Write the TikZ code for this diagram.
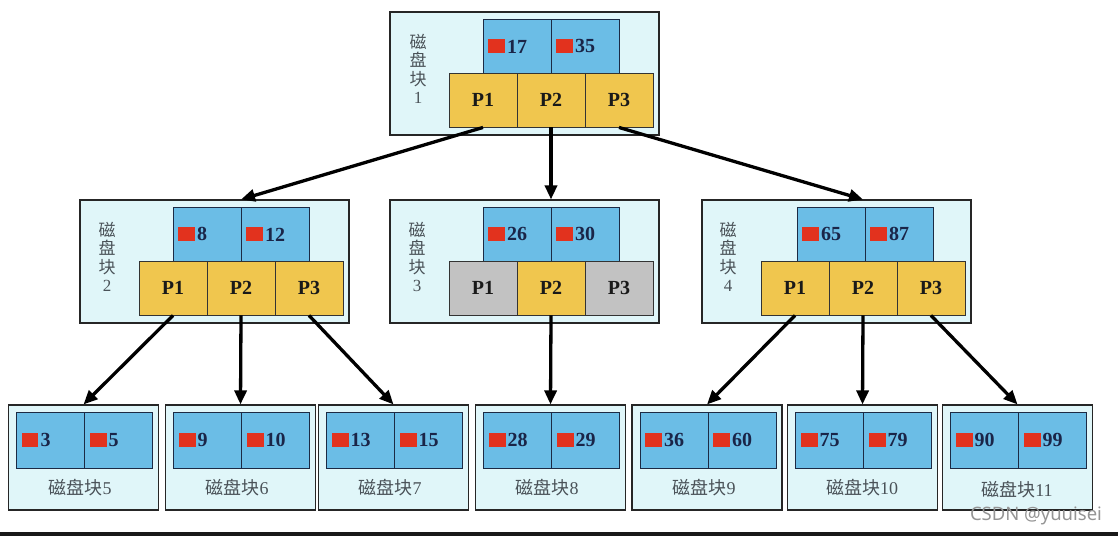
\documentclass[tikz,border=0pt]{standalone}
\usepackage{fontspec}
\setmainfont{Liberation Serif}
\newfontfamily\cjk{Noto Sans CJK SC}
\newfontfamily\wmfont{Noto Sans}
\usetikzlibrary{arrows.meta}
\definecolor{diskbg}{HTML}{E0F6F9}
\definecolor{keyblue}{HTML}{6BBDE6}
\definecolor{pyellow}{HTML}{F0C64E}
\definecolor{pgrey}{HTML}{C2C2C2}
\definecolor{keyred}{HTML}{E2321E}
\definecolor{keytext}{HTML}{1A2548}
\definecolor{navyline}{HTML}{1C2A44}
\definecolor{labgray}{HTML}{4A5258}
\newcommand{\keysq}{\textcolor{keyred}{\rule{17pt}{14pt}}\hspace{2pt}}

\begin{document}
\begin{tikzpicture}[x=1pt,y=-1pt]
\tikzset{
  disknode/.style={draw=black!85,line width=1.1pt,fill=diskbg,minimum width=269pt,minimum height=123pt,inner sep=0pt},
  leafnode/.style={disknode,minimum width=150pt,minimum height=105pt},
  keycell/.style={draw=navyline,line width=0.9pt,fill=keyblue,minimum width=68pt,minimum height=54pt,text width=58pt,inner xsep=5pt,inner ysep=0pt,align=left,font=\fontsize{20}{22}\selectfont\bfseries,text=keytext},
  leafkey/.style={keycell,minimum height=56pt},
  pcell/.style={draw=black!80,line width=0.9pt,fill=pyellow,minimum width=68pt,minimum height=54pt,inner sep=0pt,font=\fontsize{20}{22}\selectfont\bfseries,text=black!90},
  pgray/.style={pcell,fill=pgrey},
  vlabel/.style={align=center,inner sep=0pt,font=\fontsize{17}{18.5}\selectfont,text=labgray},
  leaflabel/.style={inner sep=0pt,font=\fontsize{18}{20}\selectfont,text=labgray},
  ptr/.style={line width=3.3pt,-{Triangle[length=14pt,width=12pt]}}
}
\useasboundingbox (0,0) rectangle (1118,536);
% root block
\node[disknode] (b1) at (524.5,73.5) {};
\node[keycell] (b1k1) at (517,46) {\keysq 17};
\node[keycell] (b1k2) at (585,46) {\keysq 35};
\node[pcell] (b1p1) at (483,100) {P1};
\node[pcell] (b1p2) at (551,100) {P2};
\node[pcell] (b1p3) at (619,100) {P3};
\node[vlabel] (b1lab) at (418,69) {{\cjk 磁}\\{\cjk 盘}\\{\cjk 块}\\1};
% second level
\node[disknode] (b2) at (214.5,261.5) {};
\node[keycell] (b2k1) at (207,234) {\keysq 8};
\node[keycell] (b2k2) at (275,234) {\keysq 12};
\node[pcell] (b2p1) at (173,288) {P1};
\node[pcell] (b2p2) at (241,288) {P2};
\node[pcell] (b2p3) at (309,288) {P3};
\node[vlabel] (b2lab) at (107,257) {{\cjk 磁}\\{\cjk 盘}\\{\cjk 块}\\2};
\node[disknode] (b3) at (524.5,261.5) {};
\node[keycell] (b3k1) at (517,234) {\keysq 26};
\node[keycell] (b3k2) at (585,234) {\keysq 30};
\node[pgray] (b3p1) at (483,288) {P1};
\node[pcell] (b3p2) at (551,288) {P2};
\node[pgray] (b3p3) at (619,288) {P3};
\node[vlabel] (b3lab) at (417,257) {{\cjk 磁}\\{\cjk 盘}\\{\cjk 块}\\3};
\node[disknode] (b4) at (836.5,261.5) {};
\node[keycell] (b4k1) at (831,234) {\keysq 65};
\node[keycell] (b4k2) at (899,234) {\keysq 87};
\node[pcell] (b4p1) at (795,288) {P1};
\node[pcell] (b4p2) at (863,288) {P2};
\node[pcell] (b4p3) at (931,288) {P3};
\node[vlabel] (b4lab) at (728,257) {{\cjk 磁}\\{\cjk 盘}\\{\cjk 块}\\4};
% leaves
\node[leafnode] (l5) at (83.5,457.5) {};
\node[leafkey] (l5k1) at (50.5,440) {\keysq 3};
\node[leafkey] (l5k2) at (118.5,440) {\keysq 5};
\node[leaflabel] (l5lab) at (80,488) {{\cjk 磁盘块}5};
\node[leafnode] (l6) at (240.5,457.5) {};
\node[leafkey] (l6k1) at (207.5,440) {\keysq 9};
\node[leafkey] (l6k2) at (275.5,440) {\keysq 10};
\node[leaflabel] (l6lab) at (237,488) {{\cjk 磁盘块}6};
\node[leafnode] (l7) at (393.5,457.5) {};
\node[leafkey] (l7k1) at (360.5,440) {\keysq 13};
\node[leafkey] (l7k2) at (428.5,440) {\keysq 15};
\node[leaflabel] (l7lab) at (390,488) {{\cjk 磁盘块}7};
\node[leafnode] (l8) at (550.5,457.5) {};
\node[leafkey] (l8k1) at (517.5,440) {\keysq 28};
\node[leafkey] (l8k2) at (585.5,440) {\keysq 29};
\node[leaflabel] (l8lab) at (547,488) {{\cjk 磁盘块}8};
\node[leafnode] (l9) at (707,457.5) {};
\node[leafkey] (l9k1) at (674,440) {\keysq 36};
\node[leafkey] (l9k2) at (742,440) {\keysq 60};
\node[leaflabel] (l9lab) at (704,488) {{\cjk 磁盘块}9};
\node[leafnode] (l10) at (862.5,457.5) {};
\node[leafkey] (l10k1) at (829.5,440) {\keysq 75};
\node[leafkey] (l10k2) at (897.5,440) {\keysq 79};
\node[leaflabel] (l10lab) at (862,488) {{\cjk 磁盘块}10};
\node[leafnode] (l11) at (1017.5,457.5) {};
\node[leafkey] (l11k1) at (984.5,440) {\keysq 90};
\node[leafkey] (l11k2) at (1052.5,440) {\keysq 99};
\node[leaflabel] (l11lab) at (1017,490) {{\cjk 磁盘块}11};
% pointers
\draw[ptr] (b1p1.south) -- (b2p2 |- b2.north);
\draw[ptr] (b1p2.south) -- (b3p2 |- b3.north);
\draw[ptr] (b1p3.south) -- (b4p2 |- b4.north);
\draw[ptr] (b2p1.south) -- (l5.north);
\draw[ptr] (b2p2.south) -- (l6.north);
\draw[ptr] (b2p3.south) -- (l7.north);
\draw[ptr] (b3p2.south) -- (l8.north);
\draw[ptr] (b4p1.south) -- (l9.north);
\draw[ptr] (b4p2.south) -- (l10.north);
\draw[ptr] (b4p3.south) -- (l11.north);
\node[font=\wmfont\fontsize{18.5}{20}\selectfont,text=black!42,inner sep=0pt] (mark) at (1036,516) {CSDN @yuuisei};
\fill[black!90] (0,532) rectangle (1118,536);
\end{tikzpicture}
\end{document}
